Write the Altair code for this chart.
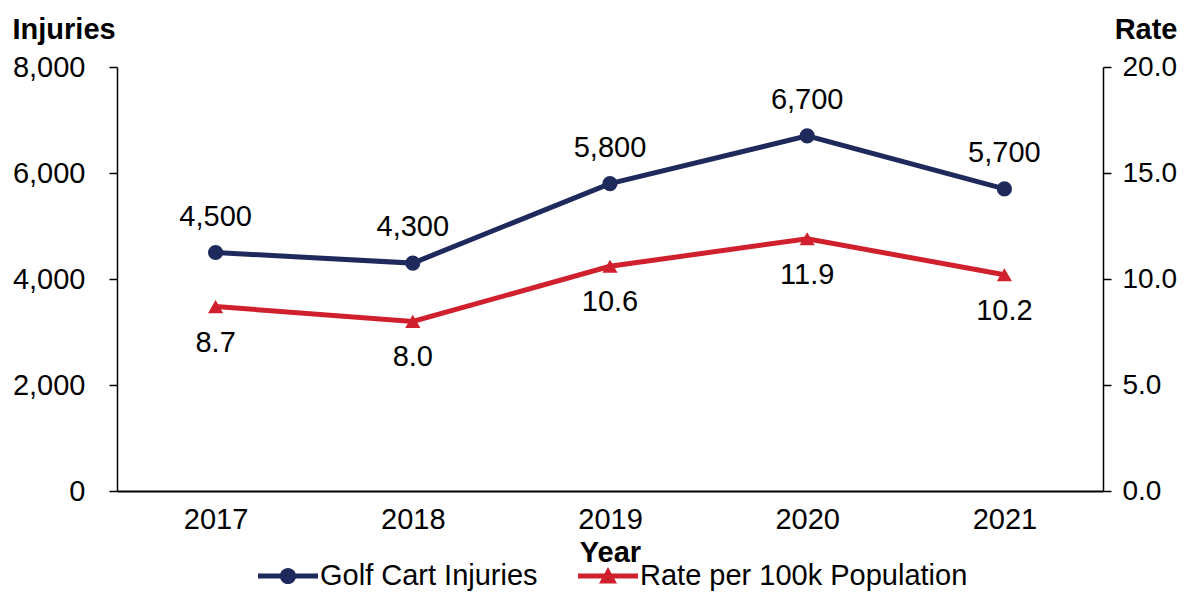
import altair as alt
import pandas as pd

years = ["2017", "2018", "2019", "2020", "2021"]
injuries = [4500, 4300, 5800, 6700, 5700]
rates = [8.7, 8.0, 10.6, 11.9, 10.2]
series_names = ["Golf Cart Injuries", "Rate per 100k Population"]
colors = ["#1F2A5C", "#D0202E"]

df = pd.DataFrame({"Year": years, "Injuries": injuries, "Rate": rates})

FONT = "Liberation Sans"
FS = 29

x_enc = alt.X(
    "Year:O",
    scale=alt.Scale(type="point", padding=0.5),
    axis=alt.Axis(
        title="Year", labelAngle=0, ticks=False, domainColor="black", domainWidth=2,
        labelPadding=14, titleFontWeight="bold", titleY=61, titleBaseline="middle",
    ),
)

y_left = alt.Y(
    "Injuries:Q",
    scale=alt.Scale(domain=[0, 8000]),
    axis=alt.Axis(
        orient="left", values=[0, 2000, 4000, 6000, 8000], format=",.0f", grid=False,
        tickSize=8, tickWidth=1.5, domainWidth=1.5, labelPadding=24,
        title="Injuries", titleAngle=0, titleX=-105, titleY=-38, titleAlign="left",
        titleBaseline="middle", titleFontWeight="bold",
    ),
)

y_right = alt.Y(
    "Rate:Q",
    scale=alt.Scale(domain=[0, 20]),
    axis=alt.Axis(
        orient="right", values=[0, 5, 10, 15, 20], format=".1f", grid=False,
        tickSize=8, tickWidth=1.5, domainWidth=1.5, labelPadding=11, labelFontSize=28,
        title="Rate", titleAngle=0, titleX=74, titleY=-38, titleAlign="right",
        titleBaseline="middle", titleFontWeight="bold",
    ),
)

base = alt.Chart(df)

inj_line = base.mark_line(color=colors[0], strokeWidth=5).encode(x=x_enc, y=y_left)
inj_pts = base.mark_point(filled=True, opacity=1, shape="circle", size=230, color=colors[0]).encode(x=x_enc, y=y_left)
inj_txt = base.mark_text(dy=-36, fontSize=FS, font=FONT, color="black", baseline="middle").encode(
    x=x_enc, y=y_left, text=alt.Text("Injuries:Q", format=",.0f")
)
left = alt.layer(inj_line, inj_pts, inj_txt)

rate_line = base.mark_line(color=colors[1], strokeWidth=5).encode(x=x_enc, y=y_right)
rate_pts = base.mark_point(filled=True, opacity=1, shape="triangle-up", size=230, color=colors[1]).encode(x=x_enc, y=y_right)
rate_txt = base.mark_text(dy=36, fontSize=FS, font=FONT, color="black", baseline="middle").encode(
    x=x_enc, y=y_right, text=alt.Text("Rate:Q", format=".1f")
)
right = alt.layer(rate_line, rate_pts, rate_txt)

circ_path = ("M-1,-0.085 L1,-0.085 L1,0.085 L-1,0.085 Z "
             "M-0.27,0 A0.27,0.27 0 1,1 0.27,0 A0.27,0.27 0 1,1 -0.27,0 Z")
tri_path = ("M-1,-0.085 L1,-0.085 L1,0.085 L-1,0.085 Z "
            "M0,-0.3 L0.3,0.25 L-0.3,0.25 Z")

leg = alt.Legend(
    title=None, orient="none", legendX=141, legendY=479, direction="horizontal",
    symbolSize=3600, symbolStrokeWidth=0, labelFontSize=FS, labelFont=FONT,
    labelColor="black", labelOffset=2, columnPadding=40, padding=0, labelLimit=600,
)

legend_layer = base.mark_point(filled=True, opacity=1).encode(
    color=alt.Color("Series:N", scale=alt.Scale(domain=series_names, range=colors), legend=leg),
    shape=alt.Shape("Series:N", scale=alt.Scale(domain=series_names, range=[circ_path, tri_path]), legend=leg),
).transform_filter("false")

chart = (
    alt.layer(left, right, legend_layer)
    .resolve_scale(y="independent")
    .properties(
        width=986, height=424, autosize="none",
        padding={"left": 109, "top": 59, "right": 77, "bottom": 101},
    )
    .configure_view(stroke=None)
    .configure_axis(
        labelFont=FONT, titleFont=FONT, labelFontSize=FS, titleFontSize=FS,
        labelColor="black", titleColor="black", domainColor="black", tickColor="black",
    )
)

chart.save("out.html", embed_options={"renderer": "svg", "actions": False})
